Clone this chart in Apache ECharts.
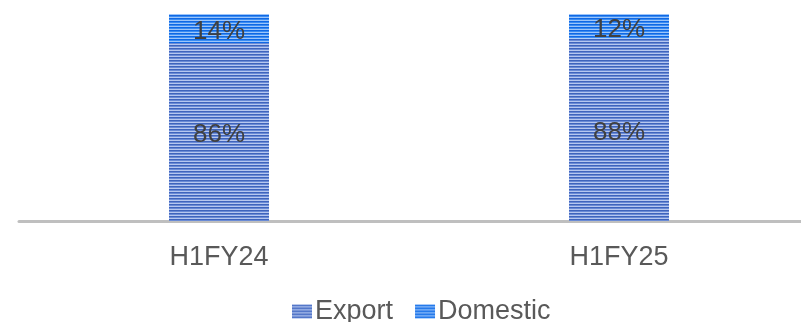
<!DOCTYPE html>
<html>
<head>
<meta charset="utf-8">
<script src="https://cdn.jsdelivr.net/npm/echarts@6/dist/echarts.min.js"></script>
<style>html,body{margin:0;padding:0;background:#fff}#c{width:801px;height:322px}</style>
</head>
<body>
<div id="c"></div>
<script>
var categories = ['H1FY24', 'H1FY25'];
var exportValues = [86, 88];
var domesticValues = [14, 12];
var seriesNames = ['Export', 'Domestic'];

function stripe(colors) {
  var cv = document.createElement('canvas');
  cv.width = 4; cv.height = colors.length;
  var ctx = cv.getContext('2d');
  colors.forEach(function (c, i) { ctx.fillStyle = c; ctx.fillRect(0, i, 4, 1); });
  return { image: cv, repeat: 'repeat' };
}
var exportFill = stripe(['#3f64bc', '#6a8bd6', '#b6c7ef']);
var domesticFill = stripe(['#1068e4', '#3a8cf2', '#9cc5fa']);

var chart = echarts.init(document.getElementById('c'), null, { renderer: 'canvas' });
var font = 'Liberation Sans, Arial, sans-serif';
var labelCfg = {
  show: true, position: 'inside', formatter: '{c}%', offset: [0, 3],
  color: '#404040', fontSize: 26, fontFamily: font
};
chart.setOption({
  animation: false,
  grid: { left: 19, width: 800, top: 14, bottom: 101, outerBoundsMode: 'none', containLabel: false },
  legend: {
    left: 287, top: 293, itemWidth: 20, itemHeight: 14, itemGap: 22, icon: 'rect',
    textStyle: { color: '#595959', fontSize: 27, fontFamily: font, padding: [0, 0, 0, -2] },
    data: seriesNames
  },
  xAxis: {
    type: 'category', data: categories,
    axisLine: { lineStyle: { color: '#bfbfbf', width: 3 } },
    axisTick: { show: false },
    axisLabel: { color: '#595959', fontSize: 27, fontFamily: font, margin: 23 }
  },
  yAxis: { type: 'value', min: 0, max: 100, show: false, splitLine: { show: false } },
  series: [
    { name: seriesNames[0], type: 'bar', stack: 's', barWidth: 100, data: exportValues,
      itemStyle: { color: exportFill }, label: labelCfg },
    { name: seriesNames[1], type: 'bar', stack: 's', barWidth: 100, data: domesticValues,
      itemStyle: { color: domesticFill }, label: labelCfg }
  ]
});
</script>
</body>
</html>
